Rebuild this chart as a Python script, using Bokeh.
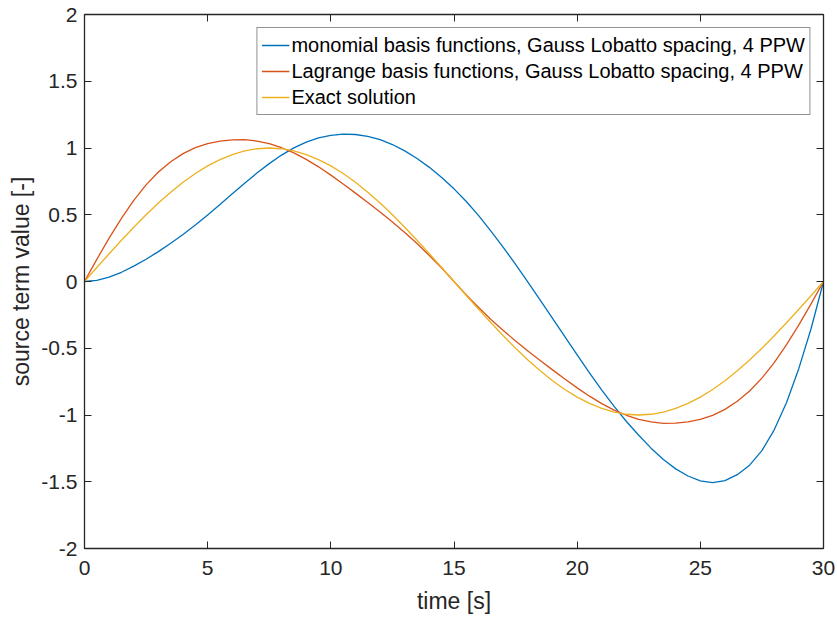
from bokeh.plotting import figure
from bokeh.models import Range1d, LinearAxis, FixedTicker, Legend, LegendItem
from bokeh.embed import file_html
from bokeh.resources import INLINE

time_s = [0, 0.5, 1, 1.5, 2, 2.5, 3, 3.5, 4, 4.5, 5, 5.5, 6, 6.5, 7, 7.5, 8, 8.5, 9, 9.5,
          10, 10.5, 11, 11.5, 12, 12.5, 13, 13.5, 14, 14.5, 15, 15.5, 16, 16.5, 17, 17.5,
          18, 18.5, 19, 19.5, 20, 20.5, 21, 21.5, 22, 22.5, 23, 23.5, 24, 24.5, 25, 25.5,
          26, 26.5, 27, 27.5, 28, 28.5, 29, 29.5, 30]

monomial = [0.0, 0.008, 0.0325, 0.069, 0.115, 0.167, 0.224, 0.286, 0.352, 0.423,
            0.4985, 0.577, 0.6565, 0.736, 0.812, 0.883, 0.947, 1.001, 1.044, 1.075,
            1.095, 1.1035, 1.101, 1.087, 1.062, 1.026, 0.9785, 0.921, 0.855, 0.779,
            0.694, 0.599, 0.493, 0.378, 0.256, 0.128, -0.004, -0.139, -0.276, -0.4135,
            -0.55, -0.684, -0.8135, -0.936, -1.0485, -1.152, -1.2485, -1.3335, -1.4035, -1.457,
            -1.4935, -1.507, -1.491, -1.447, -1.376, -1.267, -1.111, -0.906, -0.651, -0.350,
            0.0]

lagrange = [0.0, 0.166, 0.325, 0.473, 0.608, 0.724, 0.82, 0.897, 0.958, 1.003,
            1.033, 1.051, 1.061, 1.062, 1.052, 1.032, 1.002, 0.963, 0.915, 0.859,
            0.797, 0.731, 0.662, 0.591, 0.52, 0.445, 0.367, 0.284, 0.195, 0.101,
            0.0, -0.101, -0.195, -0.284, -0.367, -0.445, -0.52, -0.591, -0.662, -0.731,
            -0.797, -0.859, -0.915, -0.963, -1.002, -1.032, -1.052, -1.062, -1.061, -1.051,
            -1.033, -1.003, -0.958, -0.897, -0.82, -0.724, -0.608, -0.473, -0.325, -0.166,
            0.0]

exact = [0.0, 0.1045, 0.2079, 0.309, 0.4067, 0.5, 0.5878, 0.6691, 0.7431, 0.809,
         0.866, 0.9135, 0.9511, 0.9781, 0.9945, 1.0, 0.9945, 0.9781, 0.9511, 0.9135,
         0.866, 0.809, 0.7431, 0.6691, 0.5878, 0.5, 0.4067, 0.309, 0.2079, 0.1045,
         0.0, -0.1045, -0.2079, -0.309, -0.4067, -0.5, -0.5878, -0.6691, -0.7431, -0.809,
         -0.866, -0.9135, -0.9511, -0.9781, -0.9945, -1.0, -0.9945, -0.9781, -0.9511, -0.9135,
         -0.866, -0.809, -0.7431, -0.6691, -0.5878, -0.5, -0.4067, -0.309, -0.2079, -0.1045,
         0.0]

series_labels = ["monomial basis functions, Gauss Lobatto spacing, 4 PPW",
                 "Lagrange basis functions, Gauss Lobatto spacing, 4 PPW",
                 "Exact solution"]
series_colors = ["#0072BD", "#D95319", "#EDB120"]

x_ticks = [0, 5, 10, 15, 20, 25, 30]
x_tick_labels = ["0", "5", "10", "15", "20", "25", "30"]
y_ticks = [-2, -1.5, -1, -0.5, 0, 0.5, 1, 1.5, 2]
y_tick_labels = ["-2", "-1.5", "-1", "-0.5", "0", "0.5", "1", "1.5", "2"]

FONT = "Liberation Sans"
TXT = "#262626"

p = figure(width=837, height=619, output_backend="svg", toolbar_location=None,
           x_range=Range1d(0, 30), y_range=Range1d(-2, 2),
           min_border_left=84, min_border_right=14, min_border_top=14, min_border_bottom=71)
p.background_fill_color = "white"
p.border_fill_color = "white"
p.xgrid.visible = False
p.ygrid.visible = False
p.outline_line_color = TXT
p.outline_line_width = 1

renderers = []
for ys, c in zip([monomial, lagrange, exact], series_colors):
    r = p.line(time_s, ys, line_color=c, line_width=1.3, line_join="round")
    renderers.append(r)

def style_axis(ax, ticks, labels, show_labels=True):
    ax.ticker = FixedTicker(ticks=ticks)
    ax.minor_tick_line_color = None
    ax.major_tick_in = 7
    ax.major_tick_out = 0
    ax.major_tick_line_color = TXT
    ax.axis_line_color = TXT
    ax.axis_line_width = 1.3
    ax.major_label_text_font = FONT
    if show_labels:
        ax.major_label_overrides = {t: l for t, l in zip(ticks, labels)}
        ax.major_label_text_color = TXT
        ax.major_label_text_font_size = "21px"
    else:
        ax.major_label_text_color = None
        ax.major_label_text_font_size = "1px"
        ax.major_label_standoff = 0

xa = p.xaxis[0]
ya = p.yaxis[0]
style_axis(xa, x_ticks, x_tick_labels)
style_axis(ya, y_ticks, y_tick_labels)
xa.major_label_standoff = 12
ya.major_label_standoff = 7
xa.axis_label = "time [s]"
ya.axis_label = "source term value [-]"
for ax in (xa, ya):
    ax.axis_label_text_font = FONT
    ax.axis_label_text_font_size = "23px"
    ax.axis_label_text_font_style = "normal"
    ax.axis_label_text_color = TXT
xa.axis_label_standoff = 10
ya.axis_label_standoff = 4

top_ax = LinearAxis()
right_ax = LinearAxis()
style_axis(top_ax, x_ticks, x_tick_labels, show_labels=False)
style_axis(right_ax, y_ticks, y_tick_labels, show_labels=False)
p.add_layout(top_ax, "above")
p.add_layout(right_ax, "right")

legend = Legend(items=[LegendItem(label=l, renderers=[r]) for l, r in zip(series_labels, renderers)],
                location="top_right")
legend.margin = 13
legend.padding = 4
legend.spacing = 0
legend.glyph_width = 28
legend.glyph_height = 26
legend.label_height = 26
legend.label_standoff = 2
legend.label_text_font = FONT
legend.label_text_font_size = "20px"
legend.label_text_color = "#000000"
legend.border_line_color = TXT
legend.border_line_width = 1
legend.background_fill_color = "white"
legend.background_fill_alpha = 1
p.add_layout(legend, "center")

open("out.html", "w").write(file_html(p, INLINE))
